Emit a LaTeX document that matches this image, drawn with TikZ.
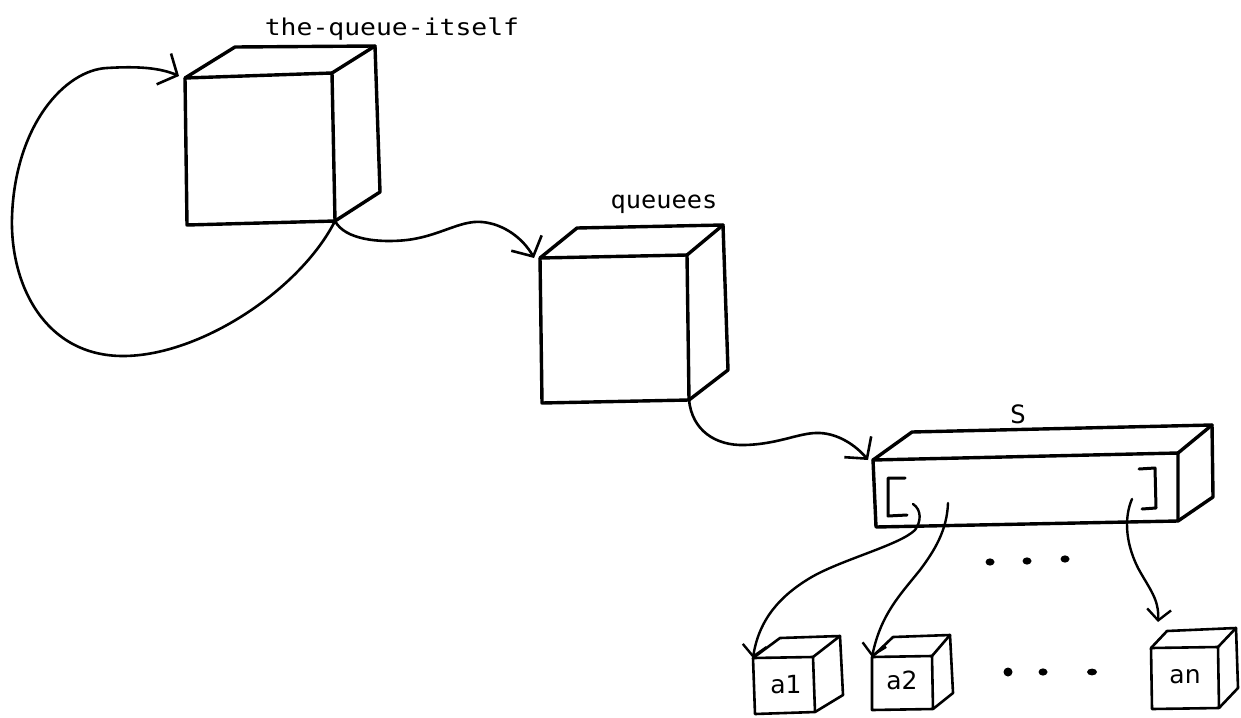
\documentclass[tikz,border=0pt]{standalone}
\usepackage{fontspec}
\usepackage{graphicx}
\usetikzlibrary{arrows.meta,bending}
\newfontfamily\monof{DejaVu Sans Mono}
\newfontfamily\sansf{DejaVu Sans}
\begin{document}
\begin{tikzpicture}[x=1pt,y=-1pt,
  bigcube/.style={line width=3.4pt,line join=round,line cap=round},
  smallcube/.style={line width=2.6pt,line join=round,line cap=round},
  conn/.style={line width=2.6pt,line cap=round,-{Straight Barb[length=15pt,width=34pt,line width=2.6pt]}},
  sconn/.style={line width=2.4pt,line cap=round,-{Straight Barb[length=11pt,width=24pt,line width=2.4pt]}},
  monolbl/.style={inner sep=0pt,anchor=base,font=\monof\fontsize{22}{26}\selectfont},
  boxlbl/.style={inner sep=0pt,anchor=base,font=\sansf\fontsize{25}{30}\selectfont},
  brk/.style={line width=3pt,line join=round,line cap=round},
  bigdot/.style={fill=black,draw=none}]
\useasboundingbox[fill=white] (0,0) rectangle (1241,717);

% ---------- cube 1: the-queue-itself
\coordinate (qaftl) at (185,78);
\coordinate (qaftr) at (332,73);
\coordinate (qafbr) at (335,221);
\coordinate (qafbl) at (187,225);
\coordinate (qabtl) at (235,47);
\coordinate (qabtr) at (375,46);
\coordinate (qabbr) at (380,192);
\draw[bigcube] (qaftl) -- (qaftr) -- (qafbr) -- (qafbl) -- cycle;
\draw[bigcube] (qaftl) -- (qabtl) -- (qabtr) -- (qaftr);
\draw[bigcube] (qabtr) -- (qabbr) -- (qafbr);
\node[monolbl] (lqa) at (392,36) {\scalebox{1.2}[1.05]{the-queue-itself}};

% ---------- cube 2: queuees
\coordinate (qbftl) at (540,258);
\coordinate (qbftr) at (687,255);
\coordinate (qbfbr) at (689,400);
\coordinate (qbfbl) at (542,403);
\coordinate (qbbtl) at (577,228);
\coordinate (qbbtr) at (723,225);
\coordinate (qbbbr) at (728,370);
\draw[bigcube] (qbftl) -- (qbftr) -- (qbfbr) -- (qbfbl) -- cycle;
\draw[bigcube] (qbftl) -- (qbbtl) -- (qbbtr) -- (qbftr);
\draw[bigcube] (qbbtr) -- (qbbbr) -- (qbfbr);
\node[monolbl] (lqb) at (664,208) {\scalebox{1.15}[1.1]{queuees}};

% ---------- S box
\coordinate (sftl) at (873,460);
\coordinate (sftr) at (1178,453);
\coordinate (sfbr) at (1178,521);
\coordinate (sfbl) at (876,527);
\coordinate (sbtl) at (912,432);
\coordinate (sbtr) at (1212,425);
\coordinate (sbbr) at (1213,497);
\draw[bigcube] (sftl) -- (sftr) -- (sfbr) -- (sfbl) -- cycle;
\draw[bigcube] (sftl) -- (sbtl) -- (sbtr) -- (sftr);
\draw[bigcube] (sbtr) -- (sbbr) -- (sfbr);
\node[monolbl] (ls) at (1018,423) {\scalebox{1.2}[1.15]{S}};
\draw[brk] (905,478) -- (888,478) -- (888,516) -- (907,515);
\draw[brk] (1139,469) -- (1155,468) -- (1156,508) -- (1142,509);

% ---------- a1
\coordinate (aaftl) at (753,658);
\coordinate (aaftr) at (813,657);
\coordinate (aafbr) at (815,712);
\coordinate (aafbl) at (755,714);
\coordinate (aabtl) at (780,638);
\coordinate (aabtr) at (840,636);
\coordinate (aabbr) at (843,695);
\draw[smallcube] (aaftl) -- (aaftr) -- (aafbr) -- (aafbl) -- cycle;
\draw[smallcube] (aaftl) -- (aabtl) -- (aabtr) -- (aaftr);
\draw[smallcube] (aabtr) -- (aabbr) -- (aafbr);
\node[boxlbl] (la1) at (786,693) {a1};

% ---------- a2
\coordinate (abftl) at (872,657);
\coordinate (abftr) at (932,656);
\coordinate (abfbr) at (933,709);
\coordinate (abfbl) at (872,710);
\coordinate (abbtl) at (893,637);
\coordinate (abbtr) at (950,635);
\coordinate (abbbr) at (953,693);
\draw[smallcube] (abftl) -- (abftr) -- (abfbr) -- (abfbl) -- cycle;
\draw[smallcube] (abftl) -- (abbtl) -- (abbtr) -- (abftr);
\draw[smallcube] (abbtr) -- (abbbr) -- (abfbr);
\node[boxlbl] (la2) at (902,689) {a2};

% ---------- an
\coordinate (anftl) at (1151,648);
\coordinate (anftr) at (1218,647);
\coordinate (anfbr) at (1219,708);
\coordinate (anfbl) at (1152,709);
\coordinate (anbtl) at (1167,631);
\coordinate (anbtr) at (1236,628);
\coordinate (anbbr) at (1238,688);
\draw[smallcube] (anftl) -- (anftr) -- (anfbr) -- (anfbl) -- cycle;
\draw[smallcube] (anftl) -- (anbtl) -- (anbtr) -- (anftr);
\draw[smallcube] (anbtr) -- (anbbr) -- (anfbr);
\node[boxlbl] (lan) at (1185,683) {an};

% ---------- ellipsis dots
\fill[bigdot] (990,562) ellipse (4.5pt and 3.6pt);
\fill[bigdot] (1027,561) ellipse (4.5pt and 3.6pt);
\fill[bigdot] (1065,559) ellipse (4.5pt and 3.6pt);
\fill[bigdot] (1008,672) ellipse (4.5pt and 4.5pt);
\fill[bigdot] (1043,672) ellipse (4.5pt and 3.6pt);
\fill[bigdot] (1092,672) ellipse (5pt and 3.4pt);

% ---------- connectors
\coordinate (loopin) at (179,76);
\draw[conn] (qafbr) .. controls (300,290) and (200,356) .. (123,356)
  .. controls (45,356) and (10,285) .. (12,217)
  .. controls (15,125) and (65,70) .. (107,68)
  .. controls (140,66) and (162,68) .. (loopin);

\coordinate (qbin) at (534,258);
\draw[conn] (qafbr) .. controls (345,240) and (380,243) .. (407,240)
  .. controls (440,236) and (460,220) .. (482,222)
  .. controls (505,224) and (525,240) .. (qbin);

\coordinate (sin) at (868,460);
\draw[conn] (qbfbr) .. controls (692,430) and (715,446) .. (745,445)
  .. controls (780,444) and (800,432) .. (820,433)
  .. controls (840,434) and (858,447) .. (sin);

\coordinate (sela) at (913,504);
\coordinate (selb) at (948,503);
\coordinate (seln) at (1132,499);
\draw[sconn] (sela) .. controls (922,510) and (921,522) .. (915,530)
  .. controls (900,545) and (840,560) .. (810,578)
  .. controls (780,596) and (758,620) .. (aaftl);
\draw[sconn] (selb) .. controls (947,530) and (935,550) .. (920,570)
  .. controls (900,595) and (880,615) .. (abftl);
\coordinate (antip) at (1158,622);
\draw[sconn] (seln) .. controls (1125,515) and (1124,540) .. (1138,568)
  .. controls (1150,590) and (1160,600) .. (antip);
\end{tikzpicture}
\end{document}
